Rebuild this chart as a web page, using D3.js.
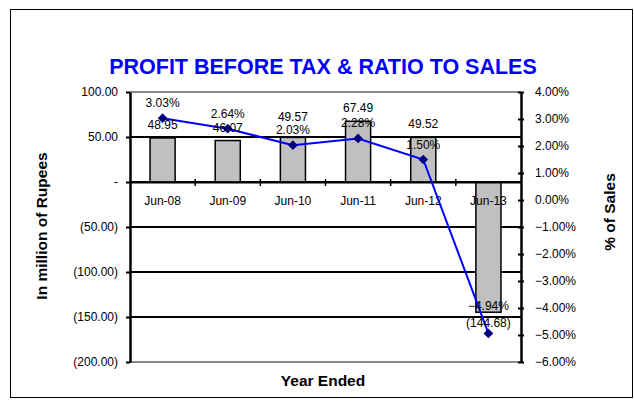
<!DOCTYPE html>
<html>
<head>
<meta charset="utf-8">
<script src="https://cdn.jsdelivr.net/npm/d3@7"></script>
<style>
  body { margin: 0; background: #fff; }
  text { font-family: "Liberation Sans", Arial, sans-serif; }
</style>
</head>
<body>
<div id="chart"></div>
<script>
// data
var years = ["Jun-08", "Jun-09", "Jun-10", "Jun-11", "Jun-12", "Jun-13"];
var profit = [48.95, 46.07, 49.57, 67.49, 49.52, -144.68];
var ratio = [3.03, 2.64, 2.03, 2.28, 1.50, -4.94];
var leftTicks = [100, 50, 0, -50, -100, -150, -200];
var rightTicks = [4, 3, 2, 1, 0, -1, -2, -3, -4, -5, -6];

var W = 634, H = 410;
var plot = {left: 130, right: 521, top: 92, bottom: 362};

var svg = d3.select("#chart").append("svg")
    .attr("width", W)
    .attr("height", H);

// outer frame
svg.append("rect")
    .attr("x", 10.5).attr("y", 9.5)
    .attr("width", 622).attr("height", 388)
    .attr("fill", "#fff")
    .attr("stroke", "#000")
    .attr("stroke-width", 1);

var x = d3.scaleBand()
    .domain(years)
    .range([plot.left, plot.right])
    .paddingInner(0.615)
    .paddingOuter(0.3075);

var xOuter = d3.scaleBand()
    .domain(years)
    .range([plot.left, plot.right]);

var y = d3.scaleLinear().domain([-200, 100]).range([plot.bottom, plot.top]);
var y2 = d3.scaleLinear().domain([-6, 4]).range([plot.bottom, plot.top]);

function fmtLeft(v) {
    if (v === 0) return "-";
    var s = d3.format(".2f")(Math.abs(v));
    return v < 0 ? "(" + s + ")" : s;
}

// gridlines
svg.append("g").selectAll("line")
    .data(leftTicks)
    .enter().append("line")
    .attr("x1", plot.left).attr("x2", plot.right)
    .attr("y1", function(d) { return y(d); })
    .attr("y2", function(d) { return y(d); })
    .attr("stroke", function(d) { return (d === 100 || d === -200) ? "#888" : "#000"; })
    .attr("stroke-width", 2);

// bars
svg.append("g").selectAll("rect")
    .data(profit)
    .enter().append("rect")
    .attr("x", function(d, i) { return x(years[i]); })
    .attr("y", function(d) { return y(Math.max(0, d)); })
    .attr("width", x.bandwidth())
    .attr("height", function(d) { return Math.abs(y(d) - y(0)); })
    .attr("fill", "#c0c0c0")
    .attr("stroke", "#000")
    .attr("stroke-width", 1.5);

// category axis along zero
var xAxis = svg.append("g")
    .attr("transform", "translate(0," + y(0) + ")")
    .call(d3.axisBottom(xOuter).tickSize(0).tickPadding(14));
xAxis.select(".domain").attr("stroke-width", 2);
xAxis.selectAll("text").attr("font-size", 12).attr("font-family", null).attr("fill", "#000");
xAxis.selectAll(".boundary")
    .data(years.slice(1))
    .enter().append("line")
    .attr("x1", function(d) { return xOuter(d); })
    .attr("x2", function(d) { return xOuter(d); })
    .attr("y1", -3).attr("y2", 4)
    .attr("stroke", "#000").attr("stroke-width", 1.5);

// left axis
var leftAxis = svg.append("g")
    .attr("transform", "translate(" + plot.left + ",0)")
    .call(d3.axisLeft(y).tickValues(leftTicks).tickFormat(fmtLeft).tickSizeInner(4).tickSizeOuter(0).tickPadding(8));
leftAxis.select(".domain").attr("stroke-width", 2.5);
leftAxis.selectAll(".tick line").attr("stroke-width", 2);
leftAxis.selectAll("text").attr("font-size", 12).attr("font-family", null).attr("fill", "#000");

// right axis
var rightAxis = svg.append("g")
    .attr("transform", "translate(" + plot.right + ",0)")
    .call(d3.axisRight(y2).tickValues(rightTicks).tickFormat(function(d) { return d3.format(".2f")(d) + "%"; }).tickSizeInner(3).tickSizeOuter(0).tickPadding(11));
rightAxis.select(".domain").attr("stroke-width", 2.5);
rightAxis.selectAll(".tick line").attr("x1", -3).attr("stroke-width", 2);
rightAxis.selectAll("text").attr("font-size", 12).attr("font-family", null).attr("fill", "#000");

// ratio line
var cx = function(d, i) { return xOuter(years[i]) + xOuter.bandwidth() / 2; };
var line = d3.line()
    .x(function(d, i) { return cx(d, i); })
    .y(function(d) { return y2(d); });

svg.append("path")
    .datum(ratio)
    .attr("d", line)
    .attr("fill", "none")
    .attr("stroke", "#0000ff")
    .attr("stroke-width", 2);

svg.append("g").selectAll("path")
    .data(ratio)
    .enter().append("path")
    .attr("d", d3.symbol().type(d3.symbolDiamond2).size(60))
    .attr("transform", function(d, i) { return "translate(" + cx(d, i) + "," + y2(d) + ")"; })
    .attr("fill", "#000080");

// label positions (baselines), nudged apart when the two labels of a year collide
var gap = 13;
var barLabY = profit.map(function(d) { return d >= 0 ? y(d) - 9 : y(d) + 15; });
var ratioLabY = ratio.map(function(d) { return y2(d) - 11; });
barLabY.forEach(function(b, i) {
    var r = ratioLabY[i];
    if (Math.abs(b - r) < gap) {
        if (b < r) barLabY[i] = r - gap;
        else ratioLabY[i] = b - gap - 4;
    }
});

// bar value labels
svg.append("g").selectAll("text")
    .data(profit)
    .enter().append("text")
    .attr("x", function(d, i) { return cx(d, i); })
    .attr("y", function(d, i) { return barLabY[i]; })
    .attr("text-anchor", "middle")
    .attr("font-size", 12)
    .attr("fill", "#000")
    .text(function(d) { return fmtLeft(d); });

// ratio labels
svg.append("g").selectAll("text")
    .data(ratio)
    .enter().append("text")
    .attr("x", function(d, i) { return cx(d, i); })
    .attr("y", function(d, i) { return ratioLabY[i]; })
    .attr("text-anchor", "middle")
    .attr("font-size", 12)
    .attr("fill", "#000")
    .text(function(d) { return d3.format(".2f")(d) + "%"; });

// titles
svg.append("text")
    .attr("x", 323).attr("y", 74)
    .attr("text-anchor", "middle")
    .attr("font-size", 21.5).attr("font-weight", "bold")
    .attr("fill", "#0000ff")
    .text("PROFIT BEFORE TAX & RATIO TO SALES");

svg.append("text")
    .attr("transform", "translate(47,226) rotate(-90)")
    .attr("text-anchor", "middle")
    .attr("font-size", 15.5).attr("font-weight", "bold")
    .text("In million of Rupees");

svg.append("text")
    .attr("transform", "translate(615,212) rotate(-90)")
    .attr("text-anchor", "middle")
    .attr("font-size", 15.5).attr("font-weight", "bold")
    .text("% of Sales");

svg.append("text")
    .attr("x", 323).attr("y", 386)
    .attr("text-anchor", "middle")
    .attr("font-size", 15.5).attr("font-weight", "bold")
    .text("Year Ended");
</script>
</body>
</html>
